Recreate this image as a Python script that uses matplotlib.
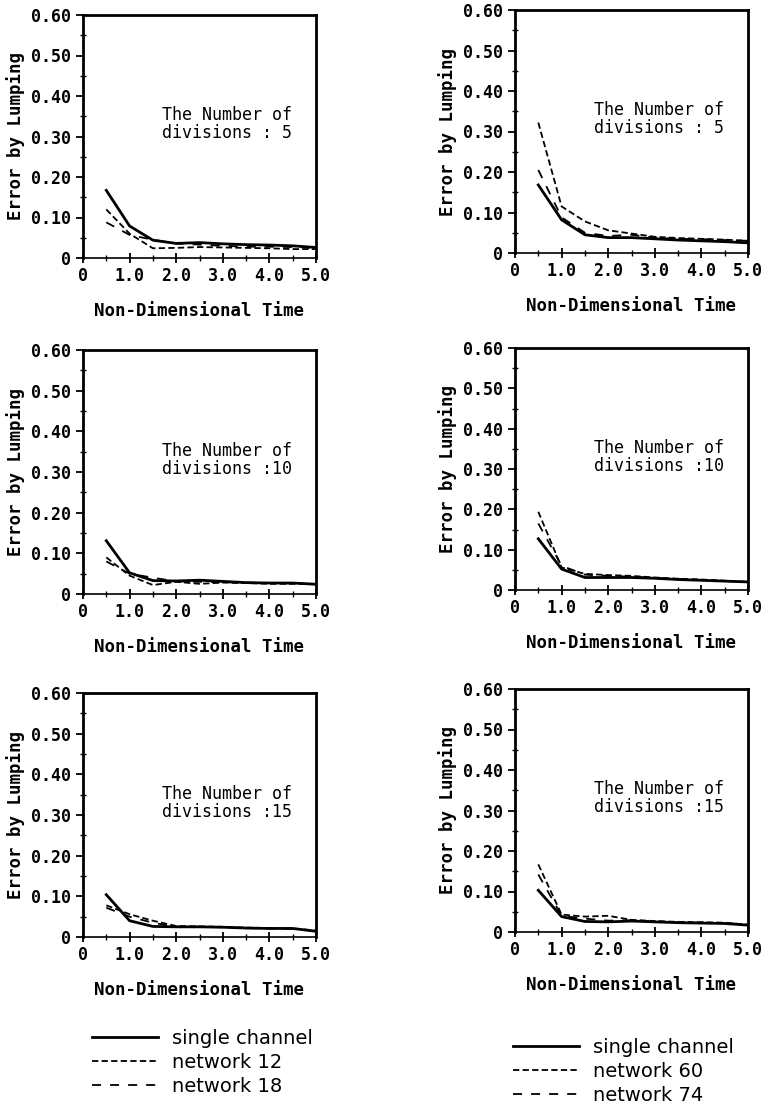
import matplotlib
matplotlib.use("Agg")
import matplotlib.pyplot as plt
from matplotlib.ticker import MultipleLocator, FixedFormatter, FixedLocator

# time points
t = [0.5, 1.0, 1.5, 2.0, 2.5, 3.0, 3.5, 4.0, 4.5, 5.0]

# left column: single channel / network 12 / network 18
single_5 = [0.167, 0.079, 0.044, 0.036, 0.038, 0.035, 0.033, 0.032, 0.030, 0.026]
net12_5 = [0.120, 0.060, 0.024, 0.025, 0.027, 0.026, 0.025, 0.024, 0.022, 0.022]
net18_5 = [0.088, 0.057, 0.045, 0.036, 0.033, 0.030, 0.028, 0.028, 0.027, 0.025]

single_10 = [0.131, 0.052, 0.033, 0.032, 0.034, 0.031, 0.028, 0.027, 0.027, 0.024]
net12_10 = [0.090, 0.045, 0.022, 0.030, 0.025, 0.028, 0.027, 0.025, 0.025, 0.024]
net18_10 = [0.080, 0.050, 0.040, 0.031, 0.030, 0.029, 0.028, 0.027, 0.026, 0.024]

single_15 = [0.104, 0.040, 0.026, 0.025, 0.025, 0.024, 0.022, 0.021, 0.021, 0.014]
net12_15 = [0.078, 0.056, 0.040, 0.027, 0.026, 0.025, 0.023, 0.022, 0.021, 0.016]
net18_15 = [0.072, 0.050, 0.035, 0.025, 0.025, 0.024, 0.022, 0.021, 0.020, 0.015]

# right column: single channel / network 60 / network 74
single_5r = [0.168, 0.082, 0.045, 0.038, 0.038, 0.035, 0.032, 0.030, 0.028, 0.025]
net60_5 = [0.322, 0.115, 0.078, 0.056, 0.048, 0.040, 0.037, 0.035, 0.033, 0.030]
net74_5 = [0.205, 0.088, 0.050, 0.042, 0.045, 0.038, 0.035, 0.034, 0.032, 0.030]

single_10r = [0.127, 0.052, 0.031, 0.031, 0.031, 0.029, 0.026, 0.024, 0.022, 0.020]
net60_10 = [0.194, 0.056, 0.040, 0.037, 0.035, 0.031, 0.028, 0.026, 0.023, 0.020]
net74_10 = [0.165, 0.060, 0.038, 0.035, 0.033, 0.030, 0.027, 0.025, 0.022, 0.020]

single_15r = [0.103, 0.038, 0.026, 0.025, 0.027, 0.025, 0.023, 0.022, 0.021, 0.017]
net60_15 = [0.167, 0.043, 0.038, 0.040, 0.030, 0.027, 0.025, 0.024, 0.023, 0.018]
net74_15 = [0.142, 0.040, 0.033, 0.028, 0.029, 0.026, 0.024, 0.023, 0.022, 0.018]

divisions = [" 5", "10", "15"]
left_names = ["single channel", "network 12", "network 18"]
right_names = ["single channel", "network 60", "network 74"]

left_data = [(single_5, net12_5, net18_5), (single_10, net12_10, net18_10),
             (single_15, net12_15, net18_15)]
right_data = [(single_5r, net60_5, net74_5), (single_10r, net60_10, net74_10),
              (single_15r, net60_15, net74_15)]

W, H = 770, 1111
fig = plt.figure(figsize=(7.7, 11.11), dpi=100)

mono = "DejaVu Sans Mono"
styles = [dict(ls="-", lw=2.0), dict(ls=(0, (3.5, 1.8)), lw=1.3),
          dict(ls=(0, (5, 5)), lw=1.3)]

# axes rects in pixels: (x0, y_bottom_px, y_top_px)
left_rects = [(83, 258, 15), (83, 594, 350), (83, 937, 693)]
right_rects = [(515, 253, 10), (515, 590, 348), (515, 932, 689)]


def make_panel(x0, yb, yt, series, div, names):
    ax = fig.add_axes([x0 / W, 1 - yb / H, 233 / W, (yb - yt) / H])
    handles = []
    for s, st, nm in zip(series, styles, names):
        h, = ax.plot(t, s, color="black", label=nm, **st)
        handles.append(h)
    ax.set_xlim(0, 5)
    ax.set_ylim(0, 0.6)
    ax.xaxis.set_major_locator(FixedLocator([0, 1, 2, 3, 4, 5]))
    ax.xaxis.set_major_formatter(FixedFormatter(["0", "1.0", "2.0", "3.0", "4.0", "5.0"]))
    ax.xaxis.set_minor_locator(MultipleLocator(0.5))
    ax.yaxis.set_major_locator(FixedLocator([0, 0.1, 0.2, 0.3, 0.4, 0.5, 0.6]))
    ax.yaxis.set_major_formatter(FixedFormatter(["0", "0.10", "0.20", "0.30", "0.40", "0.50", "0.60"]))
    ax.yaxis.set_minor_locator(MultipleLocator(0.05))
    ax.tick_params(which="major", direction="inout", length=7, width=1.3, pad=3)
    ax.tick_params(which="minor", direction="inout", length=5, width=1.0)
    ax.tick_params(axis="y", which="major", direction="out", length=5, pad=4)
    for lab in ax.get_xticklabels() + ax.get_yticklabels():
        lab.set_fontfamily(mono)
        lab.set_fontweight("bold")
        lab.set_fontsize(12)
    for side in ["left", "right", "top"]:
        ax.spines[side].set_linewidth(2.0)
    ax.spines["bottom"].set_linewidth(1.2)
    ax.set_xlabel("Non-Dimensional Time", fontfamily=mono, fontweight="bold",
                  fontsize=12.5, labelpad=12)
    ax.set_ylabel("Error by Lumping", fontfamily=mono, fontweight="bold",
                  fontsize=12.5, labelpad=4)
    ax.text(1.7, 0.33, "The Number of\ndivisions :" + div, fontfamily=mono,
            fontsize=12, va="center", ha="left", linespacing=1.0)
    return handles


lh = None
rh = None
for (x0, yb, yt), ser, d in zip(left_rects, left_data, divisions):
    h = make_panel(x0, yb, yt, ser, d, left_names)
    if lh is None:
        lh = h
for (x0, yb, yt), ser, d in zip(right_rects, right_data, divisions):
    h = make_panel(x0, yb, yt, ser, d, right_names)
    if rh is None:
        rh = h

legfont = {"family": "DejaVu Sans", "size": 14}
fig.legend(lh, left_names, loc="upper left", bbox_to_anchor=(92 / W, 1 - 1029 / H),
           frameon=False, borderpad=0, borderaxespad=0, handlelength=3.4,
           handletextpad=0.7, labelspacing=0.25, prop=legfont)
fig.legend(rh, right_names, loc="upper left", bbox_to_anchor=(513 / W, 1 - 1038 / H),
           frameon=False, borderpad=0, borderaxespad=0, handlelength=3.4,
           handletextpad=0.7, labelspacing=0.25, prop=legfont)

fig.savefig("out.png", dpi=100)
